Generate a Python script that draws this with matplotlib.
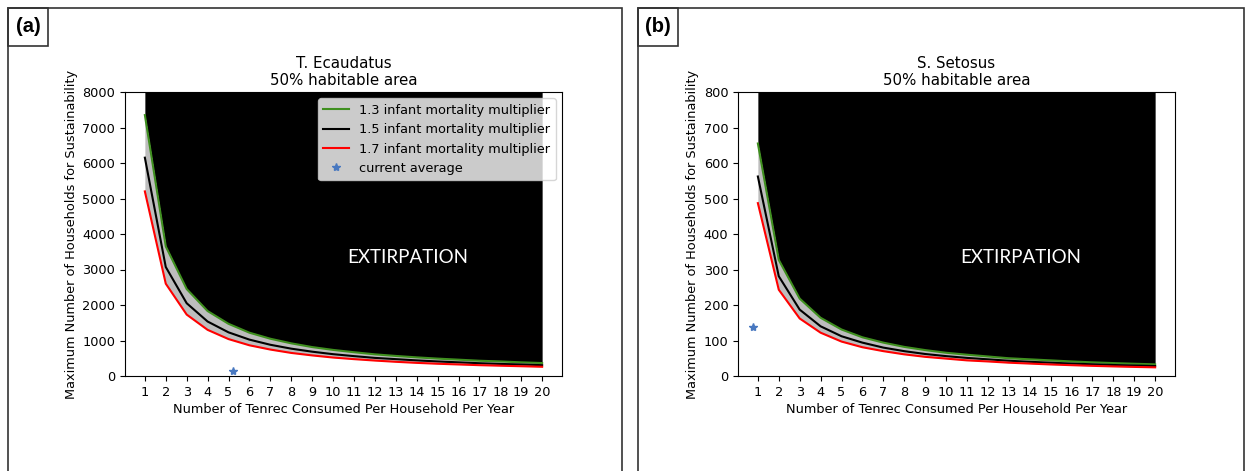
import numpy as np
import matplotlib
matplotlib.use("Agg")
import matplotlib.pyplot as plt
from matplotlib.patches import Rectangle

plt.rcParams['font.size'] = 9.3

# tenrec consumed per household per year
tenrec = list(range(1, 21))

# T. ecaudatus, max households
ecau_13 = [7350, 3650, 2450, 1830, 1470, 1220, 1050, 920, 815, 735,
           670, 610, 565, 525, 490, 460, 430, 410, 385, 365]
ecau_15 = [6150, 3070, 2050, 1535, 1230, 1025, 880, 770, 685, 615,
           560, 510, 475, 440, 410, 385, 360, 340, 325, 305]
ecau_17 = [5200, 2600, 1730, 1300, 1040, 865, 745, 650, 580, 520,
           475, 435, 400, 370, 345, 325, 305, 290, 275, 260]
ecau_current = (5.2, 130)

# S. setosus
seto_13 = [655, 327, 218, 164, 131, 109, 94, 82, 73, 65.5,
           60, 55, 50, 47, 44, 41, 38.5, 36.4, 34.5, 32.8]
seto_15 = [562, 281, 187, 140, 112, 94, 80, 70, 62, 56,
           51, 47, 43, 40, 37.5, 35, 33, 31, 29.6, 28]
seto_17 = [487, 243, 162, 122, 97, 81, 70, 61, 54, 49,
           44, 41, 37.5, 35, 32.5, 30.5, 28.6, 27, 25.6, 24.4]
seto_current = (0.75, 138)

fig = plt.figure(figsize=(12.46, 4.71), dpi=100)

W, H = 1246, 471


def panel(left, y13, y15, y17, cur, ymax, title, letter, box_l, box_r):
    ax = fig.add_axes([left / W, 1 - 376 / H, 437 / W, 284 / H])
    ax.fill_between(tenrec, y13, ymax, color='black', lw=0)
    ax.fill_between(tenrec, y17, y13, color='#bdbdbd', lw=0)
    ax.plot(tenrec, y13, color='#3f8f1f', lw=1.5, label='1.3 infant mortality multiplier')
    ax.plot(tenrec, y15, color='black', lw=1.5, label='1.5 infant mortality multiplier')
    ax.plot(tenrec, y17, color='red', lw=1.5, label='1.7 infant mortality multiplier')
    ax.plot([cur[0]], [cur[1]], '*', color='#4878c0', ms=6, lw=0, label='current average')
    ax.set_xlim(0.05, 20.95)
    ax.set_ylim(0, ymax)
    ax.set_xticks(tenrec)
    ax.set_xlabel('Number of Tenrec Consumed Per Household Per Year', labelpad=3)
    ax.set_ylabel('Maximum Number of Households for Sustainability', labelpad=3)
    ax.set_title(title, fontsize=10.8, pad=5)
    ax.text(13.55, ymax * 0.418, 'EXTIRPATION', color='white', family='Lato',
            fontsize=13.5, ha='center', va='center')
    # panel border and letter box
    fig.patches.append(Rectangle((box_l / W, -0.2), (box_r - box_l) / W, 1.2 - 8 / H,
                                 transform=fig.transFigure, fill=False, ec='#333333', lw=1.2))
    fig.patches.append(Rectangle((box_l / W, 1 - 46 / H), 40 / W, 38 / H,
                                 transform=fig.transFigure, fill=False, ec='#333333', lw=1.2))
    fig.text((box_l + 20) / W, 1 - 27 / H, letter, fontsize=14.5, fontweight='bold',
             family='Liberation Sans', ha='center', va='center')
    return ax


ax1 = panel(125, ecau_13, ecau_15, ecau_17, ecau_current, 8000,
            'T. Ecaudatus\n50% habitable area', '(a)', 8, 622)
ax1.legend(loc='upper right')
ax2 = panel(738, seto_13, seto_15, seto_17, seto_current, 800,
            'S. Setosus\n50% habitable area', '(b)', 638, 1244)

fig.savefig('out.png', dpi=100)
